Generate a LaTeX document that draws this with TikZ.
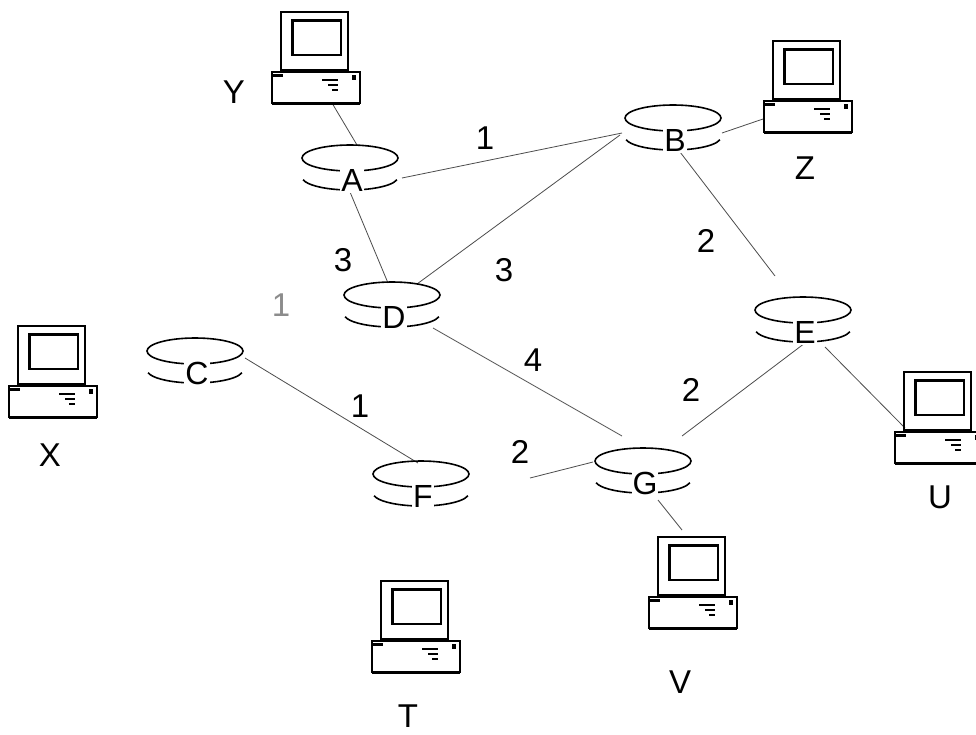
\documentclass[tikz,border=0pt]{standalone}
\usepackage{fontspec}
\setmainfont{Liberation Sans}
\usetikzlibrary{calc}

\tikzset{
  link/.style={draw=black!70, line width=0.8pt},
  lbl/.style={font=\fontsize{33}{33}\selectfont, inner sep=0pt},
  faintlbl/.style={lbl, text=black!45},
  rtag/.style={font=\fontsize{32}{32}\selectfont, fill=white, inner sep=1pt,
               text height=23pt, text depth=0pt},
  % router: a flat disk, top rim plus the lower edge of the side
  router/.pic={
    \draw[line width=1.6pt] (0,0) ellipse [x radius=48, y radius=13];
    \draw[line width=1.6pt] ([shift={(12:48 and 13)}]0,19)
      arc[start angle=12, end angle=168, x radius=48, y radius=13];
  },
  % desktop computer: monitor standing on the system unit
  computer/.pic={
    \draw[line width=1.9pt] (-44,0) rectangle (44,31);
    \draw[line width=3pt] (-44,31) -- (44,31);
    \fill (-44,2) rectangle (-33,5);
    \fill (36,3) rectangle (40,8);
    \draw[line width=1.1pt] (6,8) -- (22,8) (12,13) -- (22,13) (16,18) -- (22,18);
    \draw[line width=1.9pt] (-35,-60) rectangle (32,-2);
    \draw[line width=3pt] (-33,-1) -- (30,-1);
    \draw[line width=1.4pt] (-24,-52) rectangle (25,-17);
    \draw[line width=3pt] (-24,-17) |- (25,-52);
  }
}

\begin{document}
\begin{tikzpicture}[x=1pt, y=-1pt]
  \fill[white] (0,0) rectangle (976,734);
  \useasboundingbox (0,0) rectangle (976,734);

  % router positions (centre of the top rim)
  \coordinate (A) at (350,158);
  \coordinate (B) at (673,118);
  \coordinate (C) at (195,351);
  \coordinate (D) at (392,295);
  \coordinate (E) at (803,310);
  \coordinate (F) at (421,474);
  \coordinate (G) at (643,461);

  % computer positions (top middle of the system unit)
  \coordinate (Y) at (316,72);
  \coordinate (Z) at (808,101);
  \coordinate (X) at (53,386);
  \coordinate (U) at (939,432);
  \coordinate (V) at (693,597);
  \coordinate (T) at (416,641);
  \coordinate (Gfree) at (530,478);

  % links
  \draw[link] ($(Y)+(16,31)$) -- ($(A)+(7,-13)$);
  \draw[link] ($(A)+(52,20)$) -- ($(B)+(-51,15)$);
  \draw[link] ($(B)+(-53,17)$) -- ($(D)+(25,-11)$);
  \draw[link] ($(B)+(49,15)$) -- ($(Z)+(-45,18)$);
  \draw[link] ($(B)+(7,34)$) -- ($(E)+(-28,-34)$);
  \draw[link] ($(A)+(0,34)$) -- ($(D)+(-4,-12)$);
  \draw[link] ($(D)+(41,33)$) -- ($(G)+(-21,-25)$);
  \draw[link] ($(E)+(2,33)$) -- ($(G)+(39,-25)$);
  \draw[link] ($(E)+(22,37)$) -- ($(U)+(-34,-4)$);
  \draw[link] ($(G)+(15,39)$) -- ($(V)+(-11,-67)$);
  \draw[link] ($(C)+(50,7)$) -- ($(F)+(-3,-11)$);
  \draw[link] ($(G)+(-50,1)$) -- (Gfree);

  % routers
  \foreach \r in {A,B,C,D,E,F,G} {
    \pic at (\r) {router};
    \node[rtag] (\r-tag) at ($(\r)+(2,22)$) {\r};
  }

  % computers
  \foreach \h in {Y,Z,X,U,V,T} {
    \pic at (\h) {computer};
  }

  % host names
  \node[lbl] (Ylab) at (234,92)  {Y};
  \node[lbl] (Zlab) at (805,168) {Z};
  \node[lbl] (Xlab) at (50,455)  {X};
  \node[lbl] (Ulab) at (940,497) {U};
  \node[lbl] (Vlab) at (680,682) {V};
  \node[lbl] (Tlab) at (408,716) {T};

  % link costs
  \node[lbl] (cAB) at (485,138) {1};
  \node[lbl] (cAD) at (343,260) {3};
  \node[lbl] (cBD) at (504,270) {3};
  \node[lbl] (cBE) at (706,241) {2};
  \node[faintlbl] (cCD) at (281,305) {1};
  \node[lbl] (cDG) at (533,360) {4};
  \node[lbl] (cEG) at (691,390) {2};
  \node[lbl] (cCF) at (360,406) {1};
  \node[lbl] (cFG) at (520,452) {2};
\end{tikzpicture}
\end{document}
